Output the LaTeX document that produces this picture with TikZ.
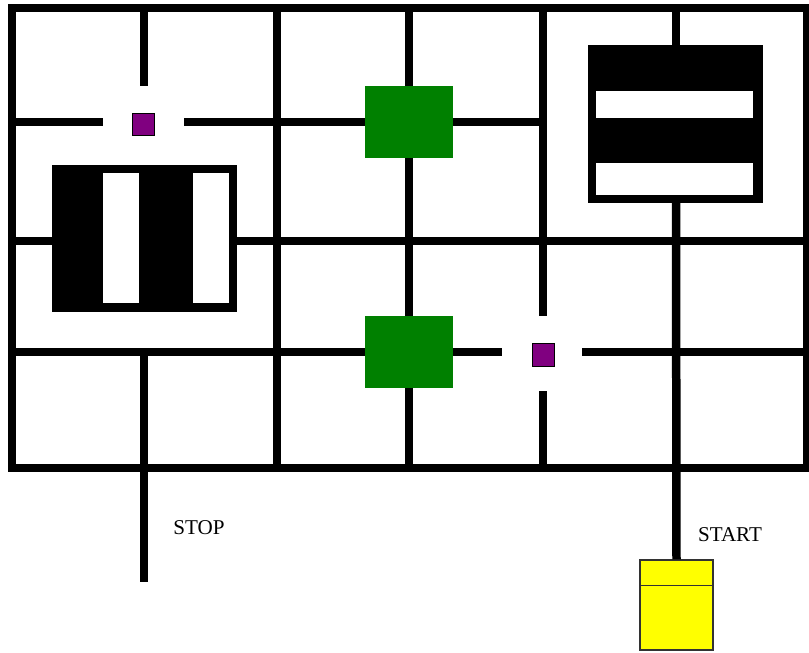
\documentclass[tikz,border=0pt]{standalone}
\usepackage{fontspec}
\setmainfont{Liberation Serif}
\usepackage{tikz}

\definecolor{hubgreen}{RGB}{0,128,0}
\definecolor{markpurple}{RGB}{128,0,128}
\definecolor{startyellow}{RGB}{255,255,0}

\begin{document}
\begin{tikzpicture}[
  x=0.02cm,
  y=-0.02cm,
  wall/.style={
      line width=0.17cm
  },
  hub/.style={
      rectangle,
      fill=hubgreen,
      inner sep=0pt,
      outer sep=0pt,
      minimum width=1.77cm,
      minimum height=1.44cm
  },
  marker/.style={
      rectangle,
      draw=black,
      line width=0.5pt,
      fill=markpurple,
      inner sep=0pt,
      minimum size=0.45cm
  },
  sign/.style={
      font=\fontsize{12}{14}\selectfont,
      inner sep=0pt
  }
]

\useasboundingbox (0,0) rectangle (809,653);

% ==================================================
% Green hubs and purple markers
% ==================================================

\node[hub] (hubtop) at (409,122) {};
\node[hub] (hubmid) at (409,352) {};

\node[marker] (marktop) at (143.5,124.5) {};
\node[marker] (markmid) at (543.5,355) {};

% ==================================================
% Outer frame
% ==================================================

\draw[wall]
(12,8) rectangle (807,468);

% ==================================================
% Vertical walls
% ==================================================

\draw[wall] (144,8) -- (144,86);
\draw[wall] (277,8) -- (277,468);

\draw[wall] (409,8) -- (hubtop.north);
\draw[wall] (hubtop.south) -- (hubmid.north);
\draw[wall] (hubmid.south) -- (409,468);

\draw[wall] (543,8) -- (543,316);
\draw[wall] (543,391) -- (543,468);

\draw[wall] (676,8) -- (676,45);

% ==================================================
% Horizontal walls
% ==================================================

\draw[wall] (12,122) -- (103,122);
\draw[wall] (184,122) -- (hubtop.west);
\draw[wall] (hubtop.east) -- (543,122);

\draw[wall] (12,241) -- (52,241);
\draw[wall] (237,241) -- (807,241);

\draw[wall] (12,352) -- (hubmid.west);
\draw[wall] (hubmid.east) -- (502,352);
\draw[wall] (582,352) -- (807,352);

% ==================================================
% Black blocks
% ==================================================

% left block, upright bars
\fill[black] (52,165) rectangle (237,312);
\fill[white] (103,173) rectangle (139,303);
\fill[white] (193,173) rectangle (229,303);

% right block, lying bars
\fill[black] (588,45) rectangle (763,203);
\fill[white] (596,91) rectangle (753,118);
\fill[white] (596,163) rectangle (753,195);

% ==================================================
% Start and stop
% ==================================================

\node[
    rectangle,
    draw=black!80,
    line width=0.6pt,
    fill=startyellow,
    inner sep=0pt,
    minimum width=1.46cm,
    minimum height=1.8cm
] (startbox) at (676.5,605) {};

\draw[black!80, line width=0.6pt]
([yshift=-0.52cm]startbox.north west)
-- ([yshift=-0.52cm]startbox.north east);

\draw[wall] (676,203) -- (startbox.north);

\coordinate (stopend) at (144,582);
\draw[wall] (144,352) -- (stopend);

\node[sign] (stoptext) at (199,527.5) {STOP};
\node[sign] (starttext) at (730,535) {START};

\end{tikzpicture}
\end{document}
